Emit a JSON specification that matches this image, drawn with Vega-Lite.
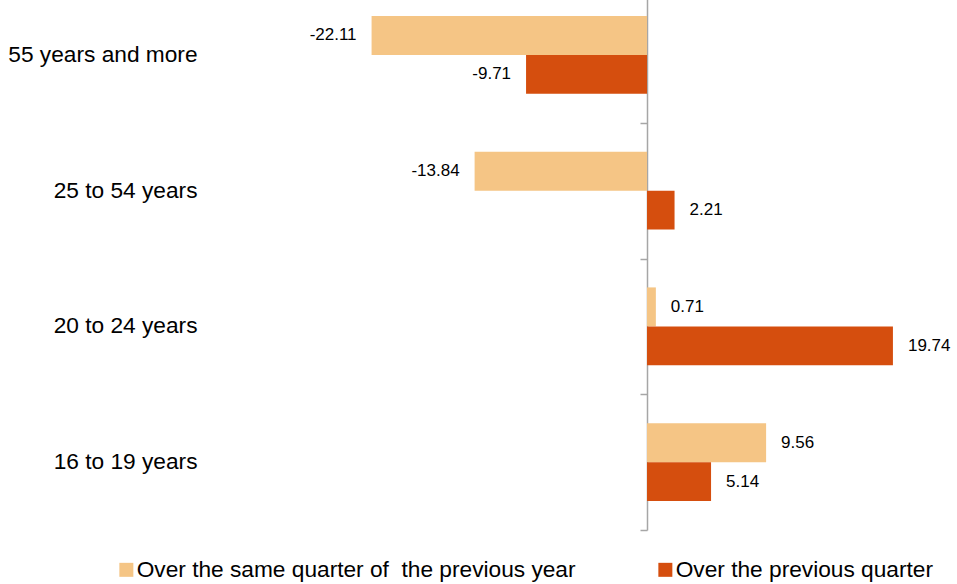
{
  "$schema": "https://vega.github.io/schema/vega-lite/v6.json",
  "width": 735,
  "height": 543,
  "padding": {"left": 7, "top": -13, "right": 0, "bottom": 0},
  "config": {
    "view": {"stroke": null},
    "font": "Liberation Sans"
  },
  "data": {
    "values": [
      {"age": "55 years and more", "series": "Over the same quarter of \u00a0the previous year", "value": -22.11},
      {"age": "55 years and more", "series": "Over the previous quarter", "value": -9.71},
      {"age": "25 to 54 years", "series": "Over the same quarter of \u00a0the previous year", "value": -13.84},
      {"age": "25 to 54 years", "series": "Over the previous quarter", "value": 2.21},
      {"age": "20 to 24 years", "series": "Over the same quarter of \u00a0the previous year", "value": 0.71},
      {"age": "20 to 24 years", "series": "Over the previous quarter", "value": 19.74},
      {"age": "16 to 19 years", "series": "Over the same quarter of \u00a0the previous year", "value": 9.56},
      {"age": "16 to 19 years", "series": "Over the previous quarter", "value": 5.14}
    ]
  },
  "encoding": {
    "y": {
      "field": "age",
      "type": "nominal",
      "sort": ["55 years and more", "25 to 54 years", "20 to 24 years", "16 to 19 years"],
      "scale": {"paddingInner": 0.426, "paddingOuter": 0.213},
      "axis": null
    },
    "yOffset": {
      "field": "series",
      "type": "nominal",
      "sort": ["Over the same quarter of \u00a0the previous year", "Over the previous quarter"],
      "scale": {"paddingInner": 0, "paddingOuter": 0}
    },
    "x": {
      "field": "value",
      "type": "quantitative",
      "scale": {"domain": [-35, 24], "nice": false, "zero": false},
      "axis": null
    }
  },
  "layer": [
    {
      "mark": {"type": "bar"},
      "encoding": {
        "color": {
          "field": "series",
          "type": "nominal",
          "sort": ["Over the same quarter of \u00a0the previous year", "Over the previous quarter"],
          "scale": {
            "domain": ["Over the same quarter of \u00a0the previous year", "Over the previous quarter"],
            "range": ["#F5C585", "#D54E0E"]
          },
          "legend": {
            "title": null,
            "orient": "none",
            "direction": "horizontal",
            "legendX": -96,
            "legendY": 571,
            "symbolType": "square",
            "symbolSize": 196,
            "symbolStrokeWidth": 0,
            "symbolOpacity": 1,
            "labelFont": "Liberation Sans",
            "labelFontSize": 22.7,
            "labelColor": "#000000",
            "labelOffset": -1,
            "labelLimit": 600,
            "columnPadding": 78
          }
        }
      }
    },
    {
      "transform": [{"filter": "datum.value < 0"}],
      "mark": {"type": "text", "align": "right", "baseline": "middle", "dx": -15, "fontSize": 17, "color": "#000000"},
      "encoding": {"text": {"field": "value", "type": "nominal"}}
    },
    {
      "transform": [{"filter": "datum.value >= 0"}],
      "mark": {"type": "text", "align": "left", "baseline": "middle", "dx": 15, "fontSize": 17, "color": "#000000"},
      "encoding": {"text": {"field": "value", "type": "nominal"}}
    },
    {
      "mark": {"type": "rule", "opacity": 0},
      "encoding": {
        "y": {
          "field": "age",
          "type": "nominal",
          "sort": ["55 years and more", "25 to 54 years", "20 to 24 years", "16 to 19 years"],
          "axis": {
            "orient": "left",
            "title": null,
            "domain": false,
            "ticks": false,
            "labelFontSize": 22.7,
            "labelColor": "#000000",
            "labelPadding": 14,
            "labelLimit": 300
          }
        },
        "yOffset": null,
        "x": {"datum": 0}
      }
    },
    {
      "mark": {"type": "rule", "opacity": 0},
      "encoding": {
        "y": {
          "field": "age",
          "type": "nominal",
          "sort": ["55 years and more", "25 to 54 years", "20 to 24 years", "16 to 19 years"],
          "axis": {
            "orient": "left",
            "title": null,
            "offset": -436,
            "labels": false,
            "domain": true,
            "domainColor": "#A6A6A6",
            "domainWidth": 1.5,
            "ticks": true,
            "tickColor": "#A6A6A6",
            "tickWidth": 1.5,
            "tickSize": 7,
            "tickOffset": 68
          }
        },
        "yOffset": null,
        "x": {"datum": 0}
      }
    }
  ],
  "resolve": {"axis": {"y": "independent"}}
}
